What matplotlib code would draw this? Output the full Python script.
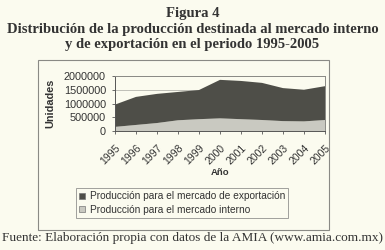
import numpy as np
import matplotlib
matplotlib.use("Agg")
import matplotlib.pyplot as plt
from matplotlib.patches import Rectangle

years = ["1995", "1996", "1997", "1998", "1999", "2000", "2001", "2002", "2003", "2004", "2005"]
total = [960000, 1240000, 1350000, 1420000, 1490000, 1860000, 1820000, 1750000, 1560000, 1500000, 1630000]
interno = [150000, 220000, 290000, 390000, 430000, 460000, 430000, 400000, 360000, 350000, 400000]
exportacion = [t - i for t, i in zip(total, interno)]

bg = "#fbfbef"
dark = "#4e4e48"
light = "#c9c9c1"

plt.rcParams["font.family"] = ["Liberation Sans", "DejaVu Sans"]

fig = plt.figure(figsize=(3.85, 2.5), dpi=100, facecolor=bg)

#outer chart frame
fig.patches.append(Rectangle((38/385, 1-230/250), (329-38)/385, (230-60)/250,
	transform=fig.transFigure, fill=False, edgecolor="#8a8a85", linewidth=0.8))

ax = fig.add_axes([115/385, 1-131/250, 210/385, 55/250])
ax.set_facecolor(bg)
x = np.arange(len(years))
ax.stackplot(x, interno, exportacion, colors=[light, dark], linewidth=0)
ax.set_xlim(0, len(years)-1)
ax.set_ylim(0, 2000000)
ax.set_yticks([0, 500000, 1000000, 1500000, 2000000])
ax.set_yticklabels(["0", "500000", "1000000", "1500000", "2000000"], fontsize=7.8, color="#333333")
ax.set_xticks(x)
ax.set_xticklabels(years, rotation=45, ha="right", rotation_mode="anchor", fontsize=7.5, color="#333333")
ax.yaxis.grid(True, color="#b5b5ae", linewidth=0.6)
ax.set_axisbelow(True)
for s in ax.spines.values():
	s.set_color("#8a8a85")
	s.set_linewidth(0.7)
ax.spines["left"].set_color("#555555")
ax.spines["bottom"].set_color("#555555")
ax.tick_params(axis="both", length=2.5, width=0.6, color="#555555")
ax.tick_params(axis="y", pad=4)
ax.tick_params(axis="x", pad=6)
ax.set_ylabel("Unidades", fontsize=7.8, fontweight="bold", color="#333333", labelpad=6)
ax.set_xlabel("Año", fontsize=6.8, fontweight="bold", color="#333333", labelpad=1)

#legend
h_exp = plt.Line2D([], [], marker="s", linestyle="", markersize=5, markerfacecolor=dark, markeredgecolor="#777777", markeredgewidth=0.5)
h_int = plt.Line2D([], [], marker="s", linestyle="", markersize=5, markerfacecolor=light, markeredgecolor="#777777", markeredgewidth=0.5)
leg = fig.legend([h_exp, h_int], ["Producción para el mercado de exportación", "Producción para el mercado interno"],
	loc="center", bbox_to_anchor=(182/385, 1-203/250), fontsize=7.3, frameon=True, fancybox=False,
	handlelength=0.7, handletextpad=0.4, borderpad=0.3, labelspacing=0.3, borderaxespad=0)
leg.get_frame().set_edgecolor("#777777")
leg.get_frame().set_linewidth(0.6)
leg.get_frame().set_facecolor(bg)
for t in leg.get_texts():
	t.set_color("#333333")

#titles
serif = ["Liberation Serif", "DejaVu Serif"]
fig.text(0.5, 1-14/250, "Figura 4", ha="center", va="center", family=serif, fontweight="bold", fontsize=10.5, color="#333333")
fig.text(0.5, 1-29/250, "Distribución de la producción destinada al mercado interno", ha="center", va="center", family=serif, fontweight="bold", fontsize=10.5, color="#333333")
fig.text(0.5, 1-45/250, "y de exportación en el periodo 1995-2005", ha="center", va="center", family=serif, fontweight="bold", fontsize=10.5, color="#333333")
fig.text(0.5, 1-238/250, "Fuente: Elaboración propia con datos de la AMIA (www.amia.com.mx)", ha="center", va="center", family=serif, fontsize=9.5, color="#333333")

fig.savefig("out.png", dpi=100, facecolor=bg)
